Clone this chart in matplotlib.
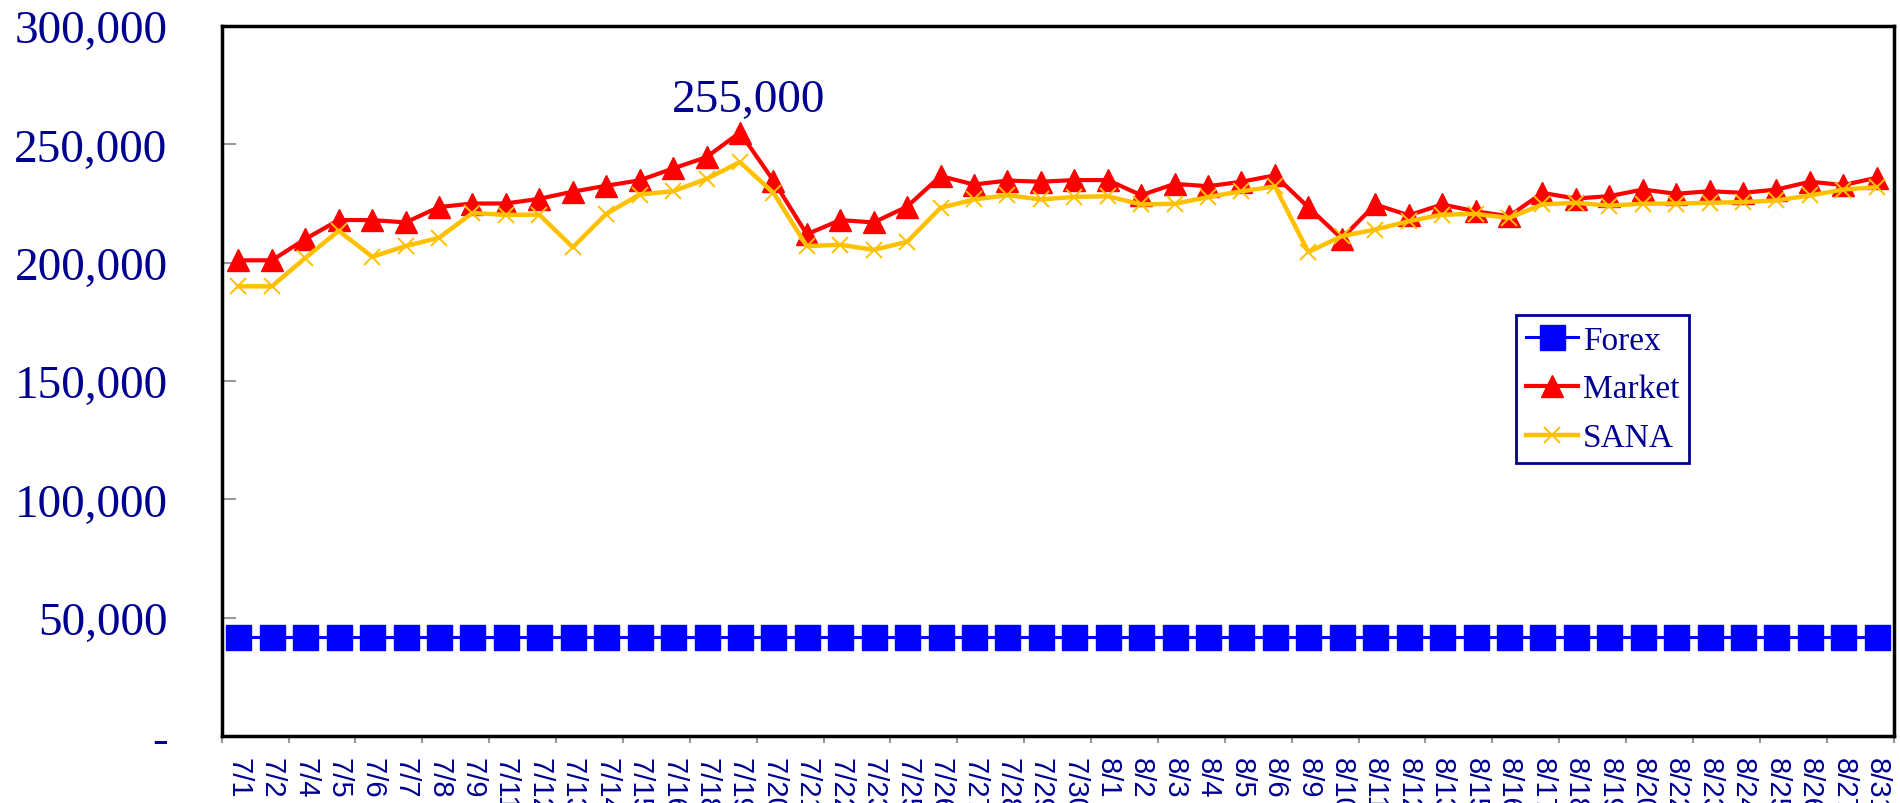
import matplotlib
matplotlib.use('Agg')
import matplotlib.pyplot as plt
import numpy as np

categories = ['7/1', '7/2', '7/4', '7/5', '7/6', '7/7', '7/8', '7/9', '7/11', '7/12',
              '7/13', '7/14', '7/15', '7/16', '7/18', '7/19', '7/20', '7/21', '7/22', '7/23',
              '7/25', '7/26', '7/27', '7/28', '7/29', '7/30', '8/1', '8/2', '8/3', '8/4',
              '8/5', '8/6', '8/9', '8/10', '8/11', '8/12', '8/13', '8/15', '8/16', '8/17',
              '8/18', '8/19', '8/20', '8/22', '8/23', '8/24', '8/25', '8/26', '8/27', '8/31']

forex = [42000, 42000, 42000, 42000, 42000, 42000, 42000, 42000, 42000, 42000,
         42000, 42000, 42000, 42000, 42000, 42000, 42000, 42000, 42000, 42000,
         42000, 42000, 42000, 42000, 42000, 42000, 42000, 42000, 42000, 42000,
         42000, 42000, 42000, 42000, 42000, 42000, 42000, 42000, 42000, 42000,
         42000, 42000, 42000, 42000, 42000, 42000, 42000, 42000, 42000, 42000]

market = [201000, 201000, 210000, 218000, 218000, 217000, 223500, 225000, 225000, 227000,
          230000, 232500, 234800, 239800, 244600, 255000, 234700, 212000, 218000, 217000,
          223700, 236600, 233000, 234700, 234200, 234900, 234900, 228500, 233300, 232300,
          234200, 236900, 223400, 210200, 224600, 220000, 224600, 221700, 219600, 229500,
          227100, 228100, 230900, 229100, 230200, 229500, 230900, 234200, 232800, 235900]

sana = [190000, 190000, 202000, 213500, 202500, 207000, 210500, 221000, 220200, 220300,
        206500, 220600, 228800, 230200, 235400, 242500, 229500, 207000, 207600, 205400,
        208800, 223200, 226700, 228500, 226700, 227800, 228100, 224600, 224900, 227700,
        230200, 232200, 204500, 211200, 214000, 217500, 220300, 220600, 218900, 224600,
        225300, 224100, 224900, 225000, 225300, 225600, 226300, 228400, 230900, 231900]

series_names = ['Forex', 'Market', 'SANA']
yticks = [0, 50000, 100000, 150000, 200000, 250000, 300000]
ytick_labels = ['-', '50,000', '100,000', '150,000', '200,000', '250,000', '300,000']
peak_label = '255,000'
peak_index = 15

navy = '#000090'
W, H = 1900, 804
fig = plt.figure(figsize=(W / 100, H / 100), dpi=100)
left, right, top, bottom = 221.7, 1893.5, 27, 737
ax = fig.add_axes([left / W, 1 - bottom / H, (right - left) / W, (bottom - top) / H])

x = np.arange(len(categories))
ax.plot(x, forex, color='#0000FF', lw=2.2, marker='s', ms=18, mec='#0000FF',
        label=series_names[0], zorder=3)
ax.plot(x, market, color='#FF0000', lw=3, marker='^', ms=16, mec='#FF0000',
        label=series_names[1], zorder=4)
ax.plot(x, sana, color='#FFC000', lw=3.2, marker='x', ms=12, mew=1.4, mec='#FFC000',
        label=series_names[2], zorder=5)

ax.set_xlim(-0.5, len(categories) - 0.5)
ax.set_ylim(yticks[0], yticks[-1])

ax.set_yticks(yticks)
ax.set_yticklabels(ytick_labels, fontfamily='Liberation Serif', fontsize=34, color=navy)
ax.tick_params(axis='y', direction='in', length=10, color='#999999', width=1.5, pad=39)

ax.set_xticks(np.arange(-0.5, len(categories), 2))
ax.tick_params(axis='x', which='major', direction='out', length=5, color='#999999',
               width=1.5, labelbottom=False)
ax.set_xticks(x, minor=True)
ax.set_xticklabels(categories, minor=True, rotation=270, ha='center', va='top',
                   fontfamily=['Liberation Sans Narrow', 'DejaVu Sans Condensed', 'Liberation Sans'],
                   fontsize=21, color=navy)
ax.tick_params(axis='x', which='minor', length=0, pad=15)

for s in ax.spines.values():
    s.set_color('black')
    s.set_linewidth(2.5)

ax.annotate(peak_label, xy=(peak_index, market[peak_index]), xytext=(9, 33),
            textcoords='offset pixels', ha='center', va='center',
            fontfamily='Liberation Serif', fontsize=34, color=navy)

leg = fig.legend(loc='upper left', bbox_to_anchor=(1516 / W, 1 - 316 / H),
                 prop={'family': 'Liberation Serif', 'size': 24},
                 frameon=True, fancybox=False, framealpha=1, edgecolor=navy,
                 borderpad=0.3, handlelength=1.55, handletextpad=0.15,
                 labelspacing=0.55, numpoints=1, borderaxespad=0)
leg.get_frame().set_linewidth(2)
for t in leg.get_texts():
    t.set_color(navy)

fig.savefig('out.png', dpi=100)
